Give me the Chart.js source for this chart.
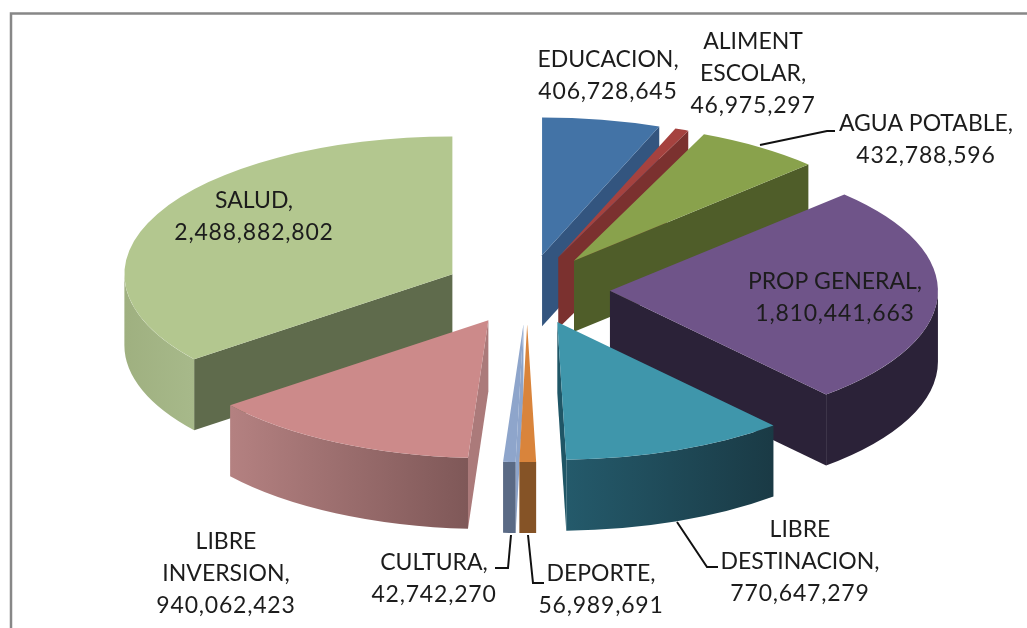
<!DOCTYPE html>
<html><head><meta charset="utf-8">
<style>html,body{margin:0;padding:0;background:#fff;overflow:hidden}canvas{display:block}</style>
<script src="https://cdn.jsdelivr.net/npm/chart.js@4"></script>
</head><body><canvas id="c" width="1027" height="628"></canvas>
<script>
const categories=['EDUCACION','ALIMENT|ESCOLAR','AGUA POTABLE','PROP GENERAL','LIBRE|DESTINACION','DEPORTE','CULTURA','LIBRE|INVERSION','SALUD'];
const values=[406728645,46975297,432788596,1810441663,770647279,56989691,42742270,940062423,2488882802];
const topColors=['#4373a6','#a5423f','#89a24c','#6f5489','#3f96ab','#d9843b','#8ea5cb','#cc8a8a','#b3c78f'];
const cutColors=['#33557f','#7b312f','#4f5d29','#2b2238','#1f5666','#855326','#8ea5cb','#ab7a7a','#5f6b4c'];
const wallLeft=['#33557f','#7b312f','#4f5d29','#2b2238','#245a6b','#855326','#5a6a85','#b48181','#9fb080'];
const wallRight=['#33557f','#7b312f','#4f5d29','#2b2238','#1a3a45','#855326','#5a6a85','#7f5858','#a7b98a'];
const labelAnchors=[[608,60],[753,42],[926,124],[835,282],[800,530],[601,574],[434,563],[226,542],[254,201]];
const leaders=[[[760,145],[827,131],[835,131]],[[677,522],[707,567],[718,567]],[[511,535],[508,568],[495,568]],[[528,535],[533,583],[544,583]]];
const pieCenter=[527,289.5], squash=0.42, depth=71, lineGap=32, explode=83;

function wallPaint(ctx,x0,x1,i){const g=ctx.createLinearGradient(x0,0,x1,0);g.addColorStop(0,wallLeft[i]);g.addColorStop(1,wallRight[i]);return g;}
const solid={
  id:'solid',
  beforeDraw(chart){
    const c=chart.ctx;c.save();c.fillStyle='#fff';c.fillRect(0,0,chart.width,chart.height);
    c.strokeStyle='#878787';c.lineWidth=2.5;c.beginPath();c.moveTo(11,chart.height);c.lineTo(11,13.5);c.lineTo(chart.width,13.5);c.stroke();c.restore();
  },
  beforeDatasetDraw(chart){
    const c=chart.ctx, arcs=chart.getDatasetMeta(0).data;
    const order=arcs.map((_,i)=>i).sort((p,q)=>{
      const m=e=>Math.sin((e.startAngle+e.endAngle)/2);return m(arcs[p])-m(arcs[q]);});
    for(const i of order){
      const e=arcs[i],r=e.outerRadius,a0=e.startAngle,a1=e.endAngle,mid=(a0+a1)/2;
      const ox=pieCenter[0]+Math.cos(mid)*explode, oy=pieCenter[1]+squash*Math.sin(mid)*explode;
      const rim=a=>[ox+r*Math.cos(a),oy+squash*r*Math.sin(a)];
      const face=a=>{const p=rim(a);c.beginPath();c.moveTo(ox,oy);c.lineTo(p[0],p[1]);c.lineTo(p[0],p[1]+depth);c.lineTo(ox,oy+depth);c.closePath();c.fillStyle=cutColors[i];c.fill();};
      if(-Math.cos(a0)>0)face(a0);
      if(Math.cos(a1)>0)face(a1);
      const lo=Math.max(a0,0),hi=Math.min(a1,Math.PI);
      if(hi>lo){
        c.beginPath();
        c.ellipse(ox,oy,r,r*squash,0,lo,hi,false);
        c.ellipse(ox,oy+depth,r,r*squash,0,hi,lo,true);
        c.closePath();
        c.fillStyle=wallPaint(c,rim(hi)[0],rim(lo)[0],i);c.fill();
      }
    }
    for(const i of order){
      const e=arcs[i],mid=(e.startAngle+e.endAngle)/2;
      c.save();
      c.translate(pieCenter[0]+Math.cos(mid)*explode,pieCenter[1]+squash*Math.sin(mid)*explode);
      c.scale(1,squash);
      c.translate(-e.x,-e.y);
      e.draw(c);
      c.restore();
    }
    return false;
  },
  afterDatasetsDraw(chart){
    const c=chart.ctx;c.save();
    c.strokeStyle='#111';c.lineWidth=2;
    for(const l of leaders){c.beginPath();l.forEach((p,k)=>k?c.lineTo(p[0],p[1]):c.moveTo(p[0],p[1]));c.stroke();}
    c.fillStyle='#1c1c1c';c.font='23px Lato';c.textAlign='center';c.textBaseline='middle';
    categories.forEach((n,i)=>{
      const lines=n.split('|');lines[lines.length-1]+=',';lines.push(values[i].toLocaleString('en-US'));
      lines.forEach((t,k)=>{
        c.letterSpacing=k===lines.length-1?'0.8px':'0px';
        c.fillText(t,labelAnchors[i][0],labelAnchors[i][1]+k*lineGap);
      });
    });
    c.restore();
  }
};
new Chart(document.getElementById('c'),{
  type:'pie',
  data:{labels:categories.map(s=>s.replace('|',' ')),datasets:[{data:values,backgroundColor:topColors,borderWidth:0,offset:0,radius:328}]},
  options:{responsive:false,animation:false,events:[],layout:{padding:0},plugins:{legend:{display:false},tooltip:{enabled:false}}},
  plugins:[solid]
});
</script></body></html>
